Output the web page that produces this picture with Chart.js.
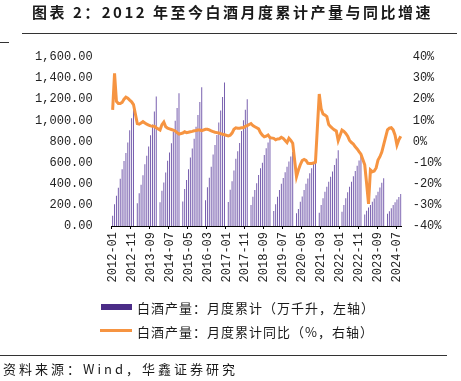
<!DOCTYPE html>
<html>
<head>
<meta charset="utf-8">
<script src="https://cdn.jsdelivr.net/npm/chart.js@4.4.1/dist/chart.umd.min.js"></script>
<style>
  body { margin: 0; background: #fff; }
  #wrap { position: relative; width: 461px; height: 381px; overflow: hidden; }
  #wrap canvas { position: absolute; left: 0; top: 0; }
  .txt { position: absolute; white-space: nowrap; color: #1a1a1a; font-family: "Noto Sans CJK SC", sans-serif; }
  .rule { position: absolute; height: 1px; background: #333; }
</style>
</head>
<body>
<div id="wrap">
  <canvas id="liquorChart" width="461" height="381"></canvas>
  <div class="txt" style="left:32px; top:2px; font-size:15px; font-weight:bold; letter-spacing:2.5px; line-height:20px;">图表 2：2012 年至今白酒月度累计产量与同比增速</div>
  <div class="rule" style="left:22px; top:33px; width:435px;"></div>
  <div class="rule" style="left:0; top:42px; width:9px;"></div>
  <div style="position:absolute; left:101px; top:304px; width:31px; height:6px; background:#4b2c87;"></div>
  <div class="txt" style="left:137px; top:299px; font-size:13px; letter-spacing:1px; line-height:17px;">白酒产量：月度累计（万千升，左轴）</div>
  <div style="position:absolute; left:100px; top:329px; width:32px; height:3px; background:#f69441;"></div>
  <div class="txt" style="left:137px; top:323px; font-size:13px; letter-spacing:1px; line-height:17px;">白酒产量：月度累计同比（%，右轴）</div>
  <div class="rule" style="left:0; top:355px; width:447px;"></div>
  <div class="txt" style="left:3px; top:360px; font-size:13px; letter-spacing:3px; line-height:18px;">资料来源：Wind，华鑫证券研究</div>
</div>
<script>
// category labels
const years = ['2012', '2013', '2014', '2015', '2016', '2017', '2018', '2019', '2020', '2021', '2022', '2023', '2024'];
const months = ['01', '02', '03', '04', '05', '06', '07', '08', '09', '10', '11', '12'];
const lastMonthCount = 9; // 2024 runs to 09

// cumulative monthly output, 万千升 (Jan merged into Feb after 2012)
const output2012 = [98, 205, 287, 363, 448, 538, 615, 690, 790, 906, 1019, 1153];
const output2013 = [null, 215, 310, 390, 480, 585, 665, 752, 860, 960, 1085, 1226];
const output2014 = [null, 224, 333, 413, 506, 618, 697, 784, 894, 996, 1117, 1257];
const output2015 = [null, 232, 350, 436, 537, 648, 734, 825, 939, 1050, 1173, 1313];
const output2016 = [null, 243, 368, 456, 560, 677, 768, 862, 980, 1094, 1222, 1358];
const output2017 = [null, 228, 343, 424, 525, 636, 707, 786, 899, 1002, 1100, 1199];
const output2018 = [null, 199, 278, 341, 404, 483, 546, 600, 672, 735, 790, 850];
const output2019 = [null, 142, 205, 278, 340, 400, 455, 510, 560, 610, 657, 700];
const output2020 = [null, 120, 160, 230, 280, 340, 400, 450, 500, 546, 593, 625];
const output2021 = [null, 125, 200, 262, 325, 372, 420, 467, 515, 578, 640, 716];
const output2022 = [null, 136, 199, 262, 319, 372, 420, 470, 520, 570, 620, 671];
const output2023 = [null, 110, 145, 175, 200, 230, 260, 290, 325, 365, 410, 452];
const output2024 = [null, 115, 140, 168, 200, 225, 250, 275, 303];

// cumulative YoY, %
const yoy2012 = [15, 32.3, 19, 18, 18, 18.5, 20, 21, 20.5, 19.6, 18.8, 17.5];
const yoy2013 = [null, 8.5, 8.2, 8.8, 9.4, 8.8, 8.2, 7.8, 7.4, 7.2, 7.2, 6.5];
const yoy2014 = [null, 5.4, 8, 9.2, 7, 6.3, 6, 5.7, 5.4, 5, 4.2, 3.5];
const yoy2015 = [null, 4, 4.6, 4.2, 4.4, 4.6, 4.8, 5.1, 5.2, 5.4, 5.4, 5.1];
const yoy2016 = [null, 5.8, 5.8, 5.5, 5, 4.7, 4.4, 4.2, 4, 3.7, 3.4, 3.2];
const yoy2017 = [null, 2.6, 3, 4, 5.8, 6.5, 6.3, 6.3, 6.5, 6.5, 7.2, 7.5];
const yoy2018 = [null, 8.5, 7.5, 7, 6.5, 6, 4.2, 3, 2.2, 2.5, 3.1, 1.8];
const yoy2019 = [null, 1.5, 0.8, 1.2, 1.3, 2, 1.5, 0.5, -0.5, 1.5, 0.5, -0.8];
const yoy2020 = [null, -16.6, -13.5, -11, -9, -8.5, -9, -10.3, -10.4, -10.4, -10.2, -9.8];
const yoy2021 = [null, 22.5, 15.5, 13, 12.5, 11.8, 8, 7, 6.2, 5.5, 5, 0.4];
const yoy2022 = [null, 5.4, 4.8, 3.8, 2.5, 0.5, -0.5, -1.2, -2.5, -3.5, -4.8, -6];
const yoy2023 = [null, -11, -20, -29.5, -13.5, -14.3, -14, -12.5, -8.8, -7.2, -5, -1.5];
const yoy2024 = [null, 5.5, 6.3, 6.5, 5.5, 3, -1.7, 0.8, 2.5];

const leftTicks = [0, 200, 400, 600, 800, 1000, 1200, 1400, 1600];
const rightTicks = [-40, -30, -20, -10, 0, 10, 20, 30, 40];

const labels = [];
years.forEach((y, i) => {
    const n = i === years.length - 1 ? lastMonthCount : 12;
    for (let m = 0; m < n; m++) labels.push(y + '-' + months[m]);
});

const outputData = [].concat(output2012, output2013, output2014, output2015, output2016, output2017,
    output2018, output2019, output2020, output2021, output2022, output2023, output2024);
const yoyData = [].concat(yoy2012, yoy2013, yoy2014, yoy2015, yoy2016, yoy2017,
    yoy2018, yoy2019, yoy2020, yoy2021, yoy2022, yoy2023, yoy2024);

const tickFont = { family: '"Liberation Mono", monospace', size: 12 };

function fmtThousands(v) {
    return v.toLocaleString('en-US', { minimumFractionDigits: 2, maximumFractionDigits: 2 });
}

const ctx = document.getElementById('liquorChart').getContext('2d');

new Chart(ctx, {
    data: {
        labels: labels,
        datasets: [{
            type: 'line',
            label: '白酒产量：月度累计同比（%，右轴）',
            data: yoyData,
            yAxisID: 'y1',
            borderColor: '#f69441',
            borderWidth: 3,
            pointRadius: 0,
            tension: 0,
            spanGaps: true,
            order: 0,
        }, {
            type: 'bar',
            label: '白酒产量：月度累计（万千升，左轴）',
            data: outputData,
            yAxisID: 'y',
            backgroundColor: '#7258ab',
            barPercentage: 0.5,
            categoryPercentage: 1,
            order: 1,
        }],
    },
    options: {
        responsive: false,
        animation: false,
        layout: {
            padding: { top: 57, bottom: 85, left: 0, right: 0 },
        },
        plugins: {
            legend: { display: false },
            tooltip: { enabled: false },
        },
        scales: {
            x: {
                offset: true,
                afterFit: (scale) => { scale.height = 70; },
                grid: {
                    offset: true,
                    drawOnChartArea: false,
                    tickLength: 3,
                    color: (c) => (c.index % 10 === 0 ? '#000' : 'rgba(0,0,0,0)'),
                },
                border: { display: true, color: '#000', width: 1 },
                ticks: {
                    autoSkip: false,
                    maxRotation: 90,
                    minRotation: 90,
                    padding: 3,
                    color: '#222',
                    font: tickFont,
                    callback: function (value, index) {
                        return index % 10 === 0 ? this.getLabelForValue(value) : '';
                    },
                },
            },
            y: {
                position: 'left',
                min: 0,
                max: 1600,
                afterFit: (scale) => { scale.width = 111.7; },
                afterBuildTicks: (scale) => { scale.ticks = leftTicks.map(v => ({ value: v })); },
                grid: { display: false, drawTicks: false },
                border: { display: false },
                ticks: {
                    padding: 19,
                    color: '#222',
                    font: tickFont,
                    callback: (v) => fmtThousands(v),
                },
            },
            y1: {
                position: 'right',
                min: -40,
                max: 40,
                afterFit: (scale) => { scale.width = 59.3; },
                afterBuildTicks: (scale) => { scale.ticks = rightTicks.map(v => ({ value: v })); },
                grid: { display: false, drawTicks: false },
                border: { display: false },
                ticks: {
                    padding: 11,
                    color: '#222',
                    font: tickFont,
                    callback: (v) => v + '%',
                },
            },
        },
    },
});
</script>
</body>
</html>
